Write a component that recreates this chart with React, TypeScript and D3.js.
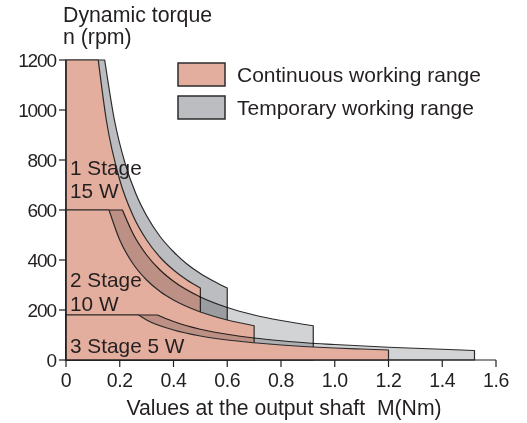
import { useEffect, useRef } from 'react';
import * as d3 from 'd3';

// torque M (Nm) / speed n (rpm) boundary points
const stages = ['1 Stage', '2 Stage', '3 Stage'];
const stageCaps = [1200, 600, 180];

const cont1: [number, number][] = [[0.12, 1200], [0.15, 960], [0.2, 720], [0.25, 576], [0.3, 480], [0.35, 411], [0.4, 360], [0.45, 320], [0.5, 288]];
const temp1: [number, number][] = [[0.144, 1200], [0.18, 961], [0.22, 786], [0.26, 665], [0.3, 577], [0.35, 494], [0.4, 433], [0.45, 384], [0.5, 346], [0.55, 315], [0.6, 288]];
const cont2: [number, number][] = [[0.16, 600], [0.2, 480], [0.25, 384], [0.3, 320], [0.35, 274], [0.4, 240], [0.5, 192], [0.6, 160], [0.7, 137]];
const temp2: [number, number][] = [[0.21, 600], [0.25, 504], [0.3, 420], [0.35, 360], [0.4, 315], [0.5, 252], [0.6, 210], [0.7, 180], [0.8, 158], [0.92, 137]];
const cont3: [number, number][] = [[0.27, 180], [0.3, 160], [0.4, 120], [0.5, 96], [0.6, 80], [0.7, 69], [0.8, 60], [0.9, 53], [1.0, 48], [1.1, 44], [1.2, 40]];
const temp3: [number, number][] = [[0.34, 180], [0.4, 154], [0.5, 123], [0.6, 103], [0.7, 88], [0.8, 77], [0.9, 68], [1.0, 62], [1.2, 51], [1.4, 43], [1.52, 38]];

const xTicks = [0, 0.2, 0.4, 0.6, 0.8, 1.0, 1.2, 1.4, 1.6];
const yTicks = [0, 200, 400, 600, 800, 1000, 1200];

const PINK = '#e4ae9f';
const GRAY_DARK = '#bbbdc0';
const GRAY_LIGHT = '#d2d3d5';
const INK = '#231f20';
const FONT = '"Liberation Sans", Arial, sans-serif';

export default function App() {
  const svgRef = useRef<SVGSVGElement>(null);

  useEffect(() => {
    if (!svgRef.current) return;
    const svg = d3.select(svgRef.current);
    svg.selectAll('*').remove();

    const x = d3.scaleLinear().domain([0, 1.6]).range([66, 496]);
    const y = d3.scaleLinear().domain([0, 1200]).range([360, 60]);

    const curve = d3.line<[number, number]>()
      .x(d => x(d[0]))
      .y(d => y(d[1]))
      .curve(d3.curveMonotoneX);

    // region: down the y axis, across the cap, along the curve, straight down to 0
    const region = (cap: number, pts: [number, number][]) => {
      const last = pts[pts.length - 1];
      const c = (curve(pts) || '').replace(/^M/, 'L');
      return `M${x(0)},${y(0)}L${x(0)},${y(cap)}${c}L${x(last[0])},${y(0)}Z`;
    };

    const layers = [
      { d: region(stageCaps[0], temp1), fill: GRAY_DARK, blend: true },
      { d: region(stageCaps[0], cont1), fill: PINK, blend: false },
      { d: region(stageCaps[1], temp2), fill: GRAY_LIGHT, blend: true },
      { d: region(stageCaps[1], cont2), fill: PINK, blend: false },
      { d: region(stageCaps[2], temp3), fill: GRAY_LIGHT, blend: true },
      { d: region(stageCaps[2], cont3), fill: PINK, blend: false },
    ];

    svg.append('g')
      .selectAll('path')
      .data(layers)
      .enter()
      .append('path')
      .attr('d', d => d.d)
      .attr('fill', d => d.fill)
      .attr('stroke', '#2b2b2b')
      .attr('stroke-width', 1.2)
      .attr('stroke-linejoin', 'round')
      .style('mix-blend-mode', d => (d.blend ? 'multiply' : 'normal'));

    // axes
    const axes = svg.append('g').attr('stroke', INK).attr('stroke-width', 1.2);
    axes.append('line').attr('x1', x(0)).attr('x2', x(0)).attr('y1', y(0)).attr('y2', y(1200));
    axes.append('line').attr('x1', x(0)).attr('x2', x(1.6)).attr('y1', y(0)).attr('y2', y(0));
    axes.selectAll('.yt').data(yTicks).enter().append('line')
      .attr('x1', x(0) - 7).attr('x2', x(0)).attr('y1', d => y(d)).attr('y2', d => y(d));
    axes.selectAll('.xt').data(xTicks).enter().append('line')
      .attr('x1', d => x(d)).attr('x2', d => x(d)).attr('y1', y(0)).attr('y2', y(0) + 7);

    const text = svg.append('g').attr('fill', INK).style('font-family', FONT);

    text.selectAll('.yl').data(yTicks).enter().append('text')
      .attr('x', x(0) - 10).attr('y', d => y(d) + 7)
      .attr('text-anchor', 'end')
      .style('font-size', '19px')
      .attr('letter-spacing', -1.1)
      .text(d => String(d));

    text.selectAll('.xl').data(xTicks).enter().append('text')
      .attr('x', d => x(d)).attr('y', 387)
      .attr('text-anchor', 'middle')
      .style('font-size', '19.5px')
      .attr('letter-spacing', -0.3)
      .text(d => (d === 0 ? '0' : d.toFixed(1)));

    const label = (tx: number, ty: number, s: string, size = 21, anchor = 'start') =>
      text.append('text').attr('x', tx).attr('y', ty)
        .attr('text-anchor', anchor)
        .style('font-size', `${size}px`)
        .style('white-space', 'pre')
        .text(s);

    label(63, 22, 'Dynamic torque', 21.3);
    label(63, 44, 'n (rpm)', 21.3);
    label(284, 415, 'Values at the output shaft  M(Nm)', 21.2, 'middle');

    // stage labels
    label(70, 175, stages[0], 20.8);
    label(70, 198, '15 W', 20.8);
    label(70, 287, stages[1], 20.8);
    label(70, 311, '10 W', 20.8);
    label(70, 353, `${stages[2]} 5 W`, 20.8);

    // legend
    const legend = [
      { label: 'Continuous working range', fill: PINK },
      { label: 'Temporary working range', fill: GRAY_DARK },
    ];
    const lg = svg.append('g');
    legend.forEach((l, i) => {
      lg.append('rect')
        .attr('x', 178).attr('y', 63 + i * 33)
        .attr('width', 47).attr('height', 23)
        .attr('fill', l.fill).attr('stroke', '#2b2b2b').attr('stroke-width', 1.5);
      lg.append('text')
        .attr('x', 237).attr('y', 82 + i * 33)
        .attr('fill', INK).style('font-family', FONT).style('font-size', '21px')
        .text(l.label);
    });
  }, []);

  return (
    <svg ref={svgRef} width={527} height={423}
      style={{ position: 'absolute', left: 0, top: 0, background: '#fff' }} />
  );
}
